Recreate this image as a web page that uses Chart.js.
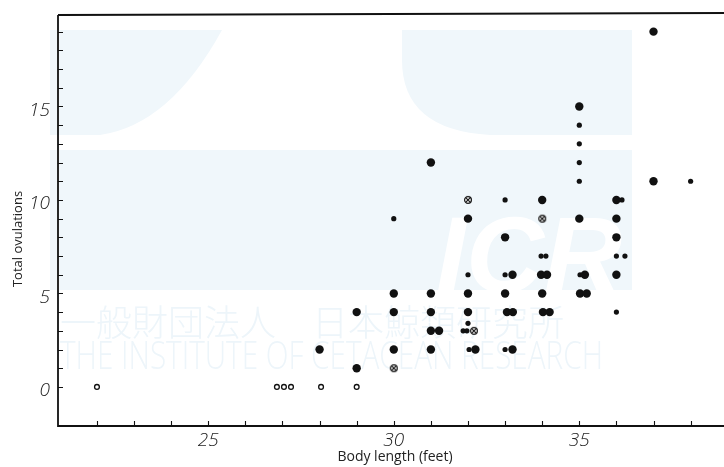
<!DOCTYPE html>
<html>
<head>
<meta charset="utf-8">
<script src="https://cdn.jsdelivr.net/npm/chart.js@4.4.0/dist/chart.umd.min.js"></script>
<style>
  html, body { margin: 0; padding: 0; background: #fff; overflow: hidden; }
  #chart { display: block; }
</style>
</head>
<body>
<canvas id="chart" width="724" height="467"></canvas>
<script>
// Body length (feet) against total ovulations, one array pair per marker kind
const largeLength = [28.0, 29.0, 29.0, 30.0, 30.0, 30.0, 31.0, 31.0, 31.0, 31.0, 31.22, 31.0,
  32.0, 32.0, 32.0, 32.2, 33.0, 33.2, 33.0, 33.05, 33.21, 33.2, 34.0, 33.97, 34.13, 34.0,
  34.02, 34.2, 35.0, 35.0, 35.15, 35.02, 35.2, 36.0, 36.0, 36.0, 36.0, 37.0, 37.0];
const largeOvulations = [2, 4, 1, 5, 4, 2, 12, 5, 4, 3, 3, 2,
  9, 5, 4, 2, 8, 6, 5, 4, 4, 2, 10, 6, 6, 5,
  4, 4, 15, 9, 6, 5, 5, 10, 9, 8, 6, 19, 11];

const smallLength = [30.0, 32.0, 32.0, 31.87, 31.97, 32.03, 33.0, 33.0, 33.0, 33.97, 34.1,
  35.0, 35.0, 35.0, 35.0, 35.02, 36.15, 36.0, 36.23, 36.0, 38.0];
const smallOvulations = [9, 6, 3.4, 3, 3, 2, 10, 6, 2, 7, 7,
  14, 13, 12, 11, 6, 10, 7, 7, 4, 11];

const openLength = [22.0, 26.85, 27.04, 27.23, 28.04, 29.0];
const openOvulations = [0, 0, 0, 0, 0, 0];

const crossedLength = [30.0, 32.16, 32.0, 34.0];
const crossedOvulations = [1, 3, 10, 9];

const xLabels = [25, 30, 35];
const yLabels = [0, 5, 10, 15];

const INK = '#111';
const WASH = '#f0f7fb';

function pairs(xs, ys) {
  return xs.map((x, i) => ({ x: x, y: ys[i] }));
}

// circle with a diagonal cross through it
function crossedCircle(r) {
  const c = document.createElement('canvas');
  const s = Math.ceil(r * 2 + 3);
  c.width = c.height = s;
  const g = c.getContext('2d');
  const m = s / 2;
  g.lineWidth = 1.2;
  g.strokeStyle = INK;
  g.fillStyle = '#fff';
  g.beginPath();
  g.arc(m, m, r, 0, Math.PI * 2);
  g.fill();
  g.stroke();
  const d = r * 0.55;
  g.beginPath();
  g.moveTo(m - d, m - d); g.lineTo(m + d, m + d);
  g.moveTo(m + d, m - d); g.lineTo(m - d, m + d);
  g.stroke();
  return c;
}

// faint institute mark printed behind the plot
function drawWatermark(ctx) {
  ctx.save();
  ctx.fillStyle = WASH;
  // top-left wedge
  ctx.beginPath();
  ctx.moveTo(50, 30);
  ctx.lineTo(222, 30);
  ctx.quadraticCurveTo(170, 125, 100, 135);
  ctx.lineTo(50, 135);
  ctx.closePath();
  ctx.fill();
  // top-right block with rounded lower corner
  ctx.beginPath();
  ctx.moveTo(402, 30);
  ctx.lineTo(632, 30);
  ctx.lineTo(632, 135);
  ctx.lineTo(490, 135);
  ctx.quadraticCurveTo(402, 130, 402, 60);
  ctx.closePath();
  ctx.fill();
  // band
  ctx.fillRect(50, 150, 582, 140);
  ctx.fillStyle = '#fff';
  ctx.font = 'italic bold 108px "Liberation Sans", sans-serif';
  ctx.textBaseline = 'alphabetic';
  ctx.fillText('ICR', 436, 292);

  ctx.fillStyle = '#edf5fa';
  ctx.font = '300 36px "Noto Sans CJK JP", sans-serif';
  ctx.textBaseline = 'middle';
  ctx.fillText('一般財団法人　日本鯨類研究所', 60, 322, 552);
  ctx.font = '300 38px "Open Sans", sans-serif';
  ctx.fillText('THE INSTITUTE OF CETACEAN RESEARCH', 60, 358, 543);
  ctx.restore();
}

const framePlugin = {
  id: 'frame',
  beforeDraw(chart) {
    drawWatermark(chart.ctx);
  },
  afterDraw(chart) {
    const { ctx, chartArea: a, scales: { x, y } } = chart;
    ctx.save();
    ctx.strokeStyle = INK;
    ctx.lineWidth = 1.8;
    ctx.beginPath();
    ctx.moveTo(a.left, a.top);
    ctx.lineTo(a.right, a.top - 2);
    ctx.moveTo(a.left, a.top);
    ctx.lineTo(a.left, a.bottom);
    ctx.lineTo(a.right, a.bottom);
    ctx.stroke();

    // inward tick marks, one per foot and one per ovulation
    ctx.lineWidth = 1.1;
    ctx.beginPath();
    for (let v = 22; v <= 38; v++) {
      const px = Math.round(x.getPixelForValue(v)) + 0.5;
      ctx.moveTo(px, a.bottom);
      ctx.lineTo(px, a.bottom - 5);
    }
    for (let v = 0; v <= 19; v++) {
      const py = Math.round(y.getPixelForValue(v)) + 0.5;
      ctx.moveTo(a.left, py);
      ctx.lineTo(a.left + 5, py);
    }
    ctx.stroke();

    // axis titles
    ctx.fillStyle = '#222';
    ctx.font = '14px "Open Sans", sans-serif';
    ctx.textAlign = 'center';
    ctx.textBaseline = 'middle';
    ctx.fillText('Body length (feet)', 395, 457);
    ctx.translate(18, 239);
    ctx.rotate(-Math.PI / 2);
    ctx.font = '13px "Open Sans", sans-serif';
    ctx.fillText('Total ovulations', 0, 0);
    ctx.restore();
  }
};

const tickFont = { family: '"Open Sans", sans-serif', size: 19, style: 'italic', weight: 300 };

function noScalePadding(scale) {
  scale.paddingLeft = 0;
  scale.paddingRight = 0;
  scale.paddingTop = 0;
  scale.paddingBottom = 0;
}

new Chart(document.getElementById('chart'), {
  type: 'scatter',
  data: {
    datasets: [
      {
        data: pairs(largeLength, largeOvulations),
        pointStyle: 'circle', pointRadius: 4.2,
        backgroundColor: INK, borderColor: INK, borderWidth: 0
      },
      {
        data: pairs(smallLength, smallOvulations),
        pointStyle: 'circle', pointRadius: 2.6,
        backgroundColor: INK, borderColor: INK, borderWidth: 0
      },
      {
        data: pairs(openLength, openOvulations),
        pointStyle: 'circle', pointRadius: 2.4,
        backgroundColor: '#fff', borderColor: INK, borderWidth: 1.3
      },
      {
        data: pairs(crossedLength, crossedOvulations),
        pointStyle: crossedCircle(3.4)
      }
    ]
  },
  options: {
    responsive: false,
    animation: false,
    devicePixelRatio: 1,
    layout: { autoPadding: false, padding: { top: 15, right: 0, left: 0, bottom: 0 } },
    plugins: { legend: { display: false }, tooltip: { enabled: false } },
    scales: {
      x: {
        type: 'linear',
        min: 20.95,
        max: 38.9,
        afterFit: (scale) => { scale.height = 41; noScalePadding(scale); },
        grid: { display: false, drawTicks: false },
        border: { display: false },
        ticks: {
          stepSize: 1,
          includeBounds: false,
          autoSkip: false,
          maxRotation: 0,
          padding: 3,
          color: '#222',
          font: tickFont,
          callback: (v) => xLabels.includes(v) ? String(v) : ''
        }
      },
      y: {
        type: 'linear',
        min: -2.09,
        max: 19.89,
        afterFit: (scale) => { scale.width = 58; noScalePadding(scale); },
        grid: { display: false, drawTicks: false },
        border: { display: false },
        ticks: {
          stepSize: 1,
          includeBounds: false,
          autoSkip: false,
          padding: 8,
          labelOffset: 4,
          color: '#222',
          font: tickFont,
          callback: (v) => yLabels.includes(v) ? String(v) : ''
        }
      }
    }
  },
  plugins: [framePlugin]
});
</script>
</body>
</html>
